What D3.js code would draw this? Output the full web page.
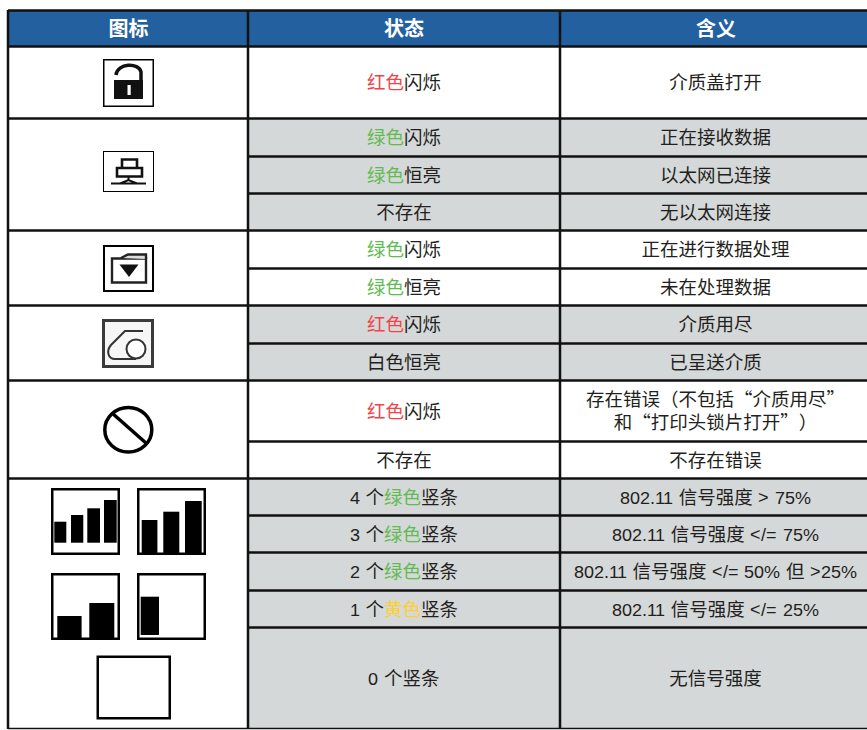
<!DOCTYPE html>
<html lang="zh-CN">
<head>
<meta charset="utf-8">
<script src="https://cdn.jsdelivr.net/npm/d3@7"></script>
<style>
  @font-face { font-family: "Latin"; src: local("Liberation Sans"); unicode-range: U+0020-007E; size-adjust: 95%; }
  html, body { margin: 0; background: #fff; }
  svg { display: block; }
  text { font-family: "Latin", "Noto Sans CJK SC", sans-serif; text-spacing-trim: space-all; font-feature-settings: "fwid"; word-spacing: 0.5px; }
</style>
</head>
<body>
<svg id="chart" width="867" height="730"></svg>
<script>
const headers = ['图标', '状态', '含义']

// one array per column, parts of a state are [text, colour key]
const states = [
  [['红色', 'red'], ['闪烁', 'ink']],
  [['绿色', 'green'], ['闪烁', 'ink']],
  [['绿色', 'green'], ['恒亮', 'ink']],
  [['不存在', 'ink']],
  [['绿色', 'green'], ['闪烁', 'ink']],
  [['绿色', 'green'], ['恒亮', 'ink']],
  [['红色', 'red'], ['闪烁', 'ink']],
  [['白色恒亮', 'ink']],
  [['红色', 'red'], ['闪烁', 'ink']],
  [['不存在', 'ink']],
  [['4 个', 'ink'], ['绿色', 'green'], ['竖条', 'ink']],
  [['3 个', 'ink'], ['绿色', 'green'], ['竖条', 'ink']],
  [['2 个', 'ink'], ['绿色', 'green'], ['竖条', 'ink']],
  [['1 个', 'ink'], ['黄色', 'yellow'], ['竖条', 'ink']],
  [['0 个竖条', 'ink']]
]
const meanings = [
  ['介质盖打开'],
  ['正在接收数据'],
  ['以太网已连接'],
  ['无以太网连接'],
  ['正在进行数据处理'],
  ['未在处理数据'],
  ['介质用尽'],
  ['已呈送介质'],
  ['存在错误（不包括“介质用尽”', '和“打印头锁片打开”）'],
  ['不存在错误'],
  ['802.11 信号强度 > 75%'],
  ['802.11 信号强度 </= 75%'],
  ['802.11 信号强度 </= 50% 但 >25%'],
  ['802.11 信号强度 </= 25%'],
  ['无信号强度']
]
const shaded = [0, 1, 1, 1, 0, 0, 1, 1, 0, 0, 1, 1, 1, 1, 1]

// layout of the table
const rowEdges = [46, 118, 156, 193, 230, 268, 305, 343, 380, 441, 478, 515, 552, 590, 627, 728]
const groupEnds = [118, 230, 305, 380, 478, 728]
const colEdges = [8, 248, 560, 867]
const headerX = [128.5, 404, 716]

const colours = { red: '#f04448', green: '#62bb50', yellow: '#fdd02f', ink: '#231f20' }

const svg = d3.select('#chart')

// header band
svg.selectAll('rect.head').data(headers).enter().append('rect')
  .attr('x', (d, i) => colEdges[i]).attr('y', 11)
  .attr('width', (d, i) => colEdges[i + 1] - colEdges[i]).attr('height', 35)
  .attr('fill', '#22609f')
svg.selectAll('text.head').data(headers).enter().append('text')
  .attr('x', (d, i) => headerX[i]).attr('y', 36)
  .attr('text-anchor', 'middle').attr('fill', '#fff')
  .attr('font-size', 20).attr('font-weight', 700)
  .text(d => d)

// row shading, columns 2 and 3
svg.selectAll('rect.row').data(shaded).enter().append('rect')
  .attr('x', colEdges[1]).attr('y', (d, i) => rowEdges[i])
  .attr('width', colEdges[3] - colEdges[1])
  .attr('height', (d, i) => rowEdges[i + 1] - rowEdges[i])
  .attr('fill', d => d ? '#d5d8d9' : '#fff')

// state text
const stateText = svg.selectAll('text.state').data(states).enter().append('text')
  .attr('x', (colEdges[1] + colEdges[2]) / 2)
  .attr('y', (d, i) => (rowEdges[i] + rowEdges[i + 1]) / 2 + 7)
  .attr('text-anchor', 'middle').attr('font-size', 18.5)
stateText.selectAll('tspan').data(d => d).enter().append('tspan')
  .attr('fill', d => colours[d[1]]).text(d => d[0])

// meaning text
meanings.forEach((lines, i) => {
  const mid = (rowEdges[i] + rowEdges[i + 1]) / 2
  lines.forEach((line, j) => {
    svg.append('text')
      .attr('x', (colEdges[2] + colEdges[3]) / 2 + 2)
      .attr('y', mid + 7 + (j - (lines.length - 1) / 2) * 23)
      .attr('text-anchor', 'middle').attr('font-size', 18.5)
      .attr('fill', colours.ink).text(line)
  })
})

// grid lines
const line = (x1, y1, x2, y2, w) => svg.append('line')
  .attr('x1', x1).attr('y1', y1).attr('x2', x2).attr('y2', y2)
  .attr('stroke', '#111').attr('stroke-width', w)

line(colEdges[0], 10.5, 867, 10.5, 2.5)
line(colEdges[0], 46.5, 867, 46.5, 2.5)
rowEdges.slice(1).forEach(y => {
  line(groupEnds.includes(y) ? colEdges[0] : colEdges[1], y + 0.5, 867, y + 0.5, y === 728 ? 1.5 : 2.5)
})
line(colEdges[0], 10, colEdges[0], 729, 2.5)
line(colEdges[1], 10, colEdges[1], 729, 2.5)
line(colEdges[2], 10, colEdges[2], 729, 2.5)

// icons
const icon = (x, y, w, h, sw) => {
  const g = svg.append('g').attr('transform', `translate(${x},${y})`)
  g.append('rect').attr('x', sw / 2).attr('y', sw / 2)
    .attr('width', w - sw).attr('height', h - sw)
    .attr('fill', '#fff').attr('stroke', '#000').attr('stroke-width', sw)
  return g
}

// padlock
const lock = icon(103, 59, 51, 48, 1.5)
lock.append('path').attr('d', 'M13 16 C14 4 36 3 38 13 L38 22').attr('fill', 'none').attr('stroke', '#111').attr('stroke-width', 3.5)
lock.append('rect').attr('x', 11).attr('y', 21).attr('width', 29).attr('height', 19).attr('fill', '#111')
lock.append('rect').attr('x', 24.5).attr('y', 26).attr('width', 3.2).attr('height', 10).attr('fill', '#fff')

// network
const net = icon(103, 151, 51, 41, 1)
net.append('path').attr('d', 'M19 8.5 H34 V17 H19 Z M14 17 H39 V25.5 H14 Z').attr('fill', 'none').attr('stroke', '#111').attr('stroke-width', 2.6)
net.append('path').attr('d', 'M25.5 25.5 V29 M8 32.5 H43 M17 32.5 L25.5 29 L34 32.5').attr('fill', 'none').attr('stroke', '#111').attr('stroke-width', 2)

// tray
const tray = icon(103, 245, 51, 47, 2)
tray.append('path').attr('d', 'M9 13.5 H43 V37.5 H9 Z').attr('fill', '#fff').attr('stroke', '#222').attr('stroke-width', 2.4)
tray.append('path').attr('d', 'M18 13 L25 9.5 H43 V14').attr('fill', '#ddd').attr('stroke', '#222').attr('stroke-width', 2.4)
tray.append('path').attr('d', 'M16.5 19.5 H35.5 L26 32 Z').attr('fill', '#111')

// media roll
const roll = icon(102, 319, 52, 49, 3)
roll.select('rect').attr('fill', '#f6f6f6').attr('stroke', '#3a3a3a')
roll.append('path').attr('d', 'M41 12 H23 L9 26 C4 32 6 40 13 40 H34').attr('fill', 'none').attr('stroke', '#333').attr('stroke-width', 2)
roll.append('circle').attr('cx', 34).attr('cy', 30).attr('r', 9.5).attr('fill', '#fff').attr('stroke', '#333').attr('stroke-width', 2)

// error sign
svg.append('ellipse').attr('cx', 128.3).attr('cy', 429.7).attr('rx', 23.5).attr('ry', 22.3).attr('fill', '#fff').attr('stroke', '#000').attr('stroke-width', 3.5)
line(112, 413, 146.5, 443.5, 3.5).attr('stroke', '#000')

// signal icons
const signalIcons = [
  { x: 51, y: 488, w: 69, h: 67, bars: [[3.3, 12, 21, 12.3], [20, 12.3, 27.7, 12.3], [36.3, 12.7, 34.4, 12.3], [53, 12.7, 42.7, 12.3]] },
  { x: 137, y: 488, w: 69, h: 67, bars: [[4.7, 15.7, 33, 2], [26.3, 16, 41.3, 2], [48, 16.7, 52, 2]] },
  { x: 51, y: 573, w: 69, h: 67, bars: [[6.3, 24.3, 22, 2], [38.3, 25, 35, 2]] },
  { x: 137, y: 573, w: 69, h: 67, bars: [[3.7, 18.3, 38.3, 5]] }
]
signalIcons.forEach(s => {
  const g = icon(s.x, s.y, s.w, s.h, 2.5)
  g.selectAll('rect.bar').data(s.bars).enter().append('rect')
    .attr('x', d => d[0]).attr('width', d => d[1])
    .attr('y', d => s.h - d[2] - d[3]).attr('height', d => d[2])
    .attr('fill', '#000')
})
icon(96.5, 655.5, 74.5, 64, 2.5)
</script>
</body>
</html>
